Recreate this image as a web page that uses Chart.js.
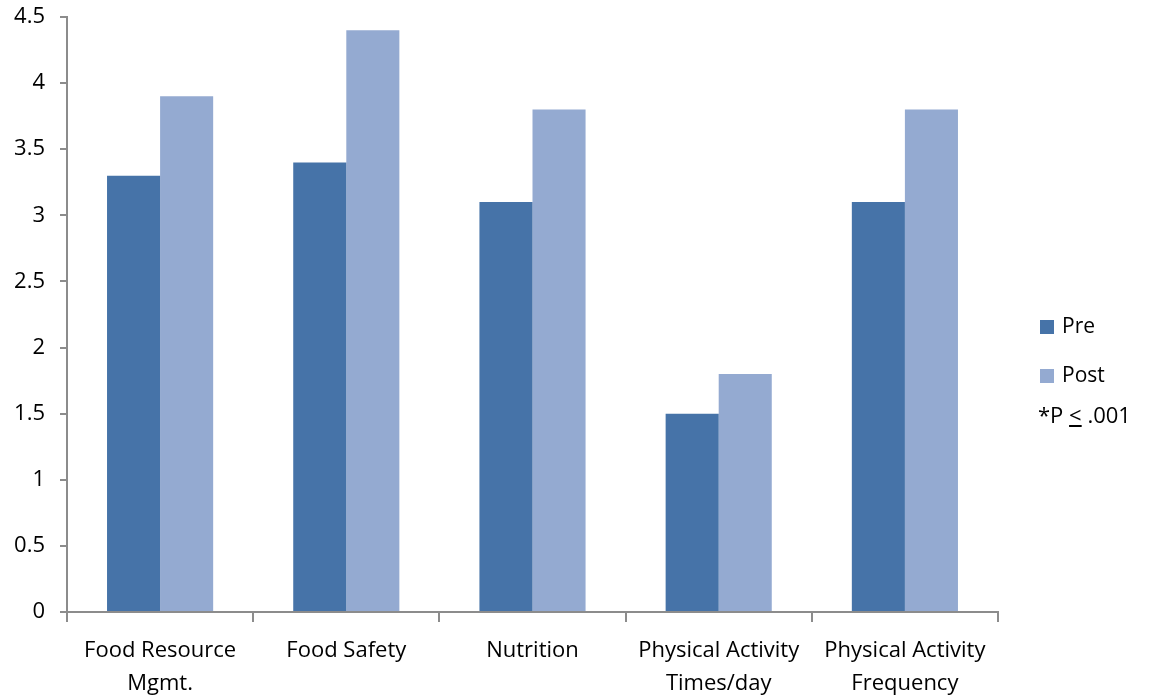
<!DOCTYPE html>
<html>
<head>
    <title>Pre / Post Scores</title>
    <script src="https://cdn.jsdelivr.net/npm/chart.js"></script>
    <style>
        body { margin: 0; background: #fff; }
        #wrap { position: relative; width: 1156px; height: 696px; }
        #legend { position: absolute; left: 1040px; top: 311px; font-family: 'Open Sans', sans-serif; font-size: 21px; color: #000; }
        #legend .item { height: 49px; display: flex; align-items: flex-start; }
        #legend .box { width: 14px; height: 14px; margin-right: 8px; margin-top: 9px; }
        #legend .note { margin-left: -2px; margin-top: -10px; font-size: 22px; }
    </style>
</head>
<body>
<div id="wrap">
    <canvas id="barChart" width="1156" height="696"></canvas>
    <div id="legend"></div>
</div>
<script>
    var categories = [['Food Resource', 'Mgmt.'], 'Food Safety', 'Nutrition', ['Physical Activity', 'Times/day'], ['Physical Activity', 'Frequency']];
    var preValues = [3.3, 3.4, 3.1, 1.5, 3.1];
    var postValues = [3.9, 4.4, 3.8, 1.8, 3.8];
    var seriesNames = ['Pre', 'Post'];
    var seriesColors = ['#4673A8', '#94AAD1'];

    var axisColor = '#8c8c8c';
    var tickFont = { family: "'Open Sans', sans-serif", size: 22 };

    var ctx = document.getElementById('barChart').getContext('2d');
    var chart = new Chart(ctx, {
        type: 'bar',
        data: {
            labels: categories,
            datasets: [{
                label: seriesNames[0],
                data: preValues,
                backgroundColor: seriesColors[0],
                barPercentage: 1,
                categoryPercentage: 0.57
            }, {
                label: seriesNames[1],
                data: postValues,
                backgroundColor: seriesColors[1],
                barPercentage: 1,
                categoryPercentage: 0.57
            }]
        },
        options: {
            responsive: false,
            animation: false,
            layout: {
                autoPadding: false,
                padding: { top: 17, right: 158, left: 0, bottom: 0 }
            },
            plugins: {
                legend: { display: false },
                tooltip: { enabled: false }
            },
            scales: {
                x: {
                    grid: {
                        offset: true,
                        drawOnChartArea: false,
                        drawTicks: true,
                        tickLength: 10,
                        color: axisColor,
                        lineWidth: 2
                    },
                    border: { color: axisColor, width: 2 },
                    ticks: {
                        color: '#000',
                        font: Object.assign({ lineHeight: 1.5 }, tickFont),
                        padding: 12,
                        maxRotation: 0,
                        autoSkip: false
                    },
                    afterFit: function (scale) {
                        scale.height = 84;
                    }
                },
                y: {
                    min: 0,
                    max: 4.5,
                    grid: {
                        drawOnChartArea: false,
                        drawTicks: true,
                        tickLength: 7,
                        color: axisColor,
                        lineWidth: 2
                    },
                    border: { color: axisColor, width: 2 },
                    ticks: {
                        stepSize: 0.5,
                        color: '#000',
                        font: tickFont,
                        padding: 15,
                        callback: function (value) {
                            return String(value);
                        }
                    },
                    afterFit: function (scale) {
                        // fixed axis width, and don't let the tick padding push the top down
                        scale.width = 67;
                        scale.paddingTop = 0;
                        scale.paddingBottom = 0;
                    }
                }
            }
        }
    });

    // legend on the right, with the significance note under it
    var legend = document.getElementById('legend');
    seriesNames.forEach(function (name, i) {
        var item = document.createElement('div');
        item.className = 'item';
        item.innerHTML = '<div class="box" style="background:' + seriesColors[i] + '"></div><span>' + name + '</span>';
        legend.appendChild(item);
    });
    var note = document.createElement('div');
    note.className = 'note';
    note.innerHTML = '*P <u>&lt;</u> .001';
    legend.appendChild(note);
</script>
</body>
</html>
